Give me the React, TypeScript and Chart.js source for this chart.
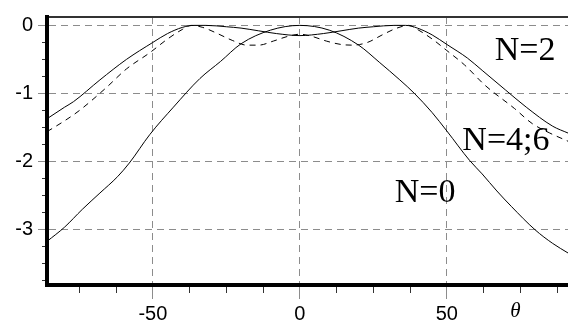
import React, { useEffect, useRef } from 'react';
import { Chart, registerables } from 'chart.js';

Chart.register(...registerables);

// Axis ranges and tick steps
const X_MIN = -86;
const X_MAX = 91.2;
const Y_MIN = -3.81;
const Y_MAX = 0.123;
const X_STEP = 12.5;
const Y_STEP = 0.25;
const X_MAJOR = 50;
const X_TITLE = 'θ';

// N=0 curve (solid)
const thetaN0 = [-86, -80, -74, -68, -62, -58, -51, -43, -34, -27, -20, -10, 0, 10, 20, 27, 34, 39, 45, 50, 57.7, 62, 67, 72, 80, 86, 91.2];
const valuesN0 = [-3.17, -2.96, -2.7, -2.46, -2.22, -2.02, -1.6, -1.2, -0.78, -0.53, -0.27, -0.07, 0, -0.07, -0.29, -0.54, -0.8, -1.0, -1.28, -1.55, -1.98, -2.18, -2.43, -2.66, -3.0, -3.2, -3.34];

// N=2 curve (solid)
const thetaN2 = [-86, -80, -77, -68, -59, -50, -45, -40, -36, -32, -25, -20, -14, -8, 0, 8, 14, 20, 25, 32, 36, 40, 45, 50, 57, 62, 70, 77, 86, 91.2];
const valuesN2 = [-1.37, -1.2, -1.12, -0.8, -0.5, -0.25, -0.12, -0.03, 0, 0, -0.02, -0.04, -0.08, -0.12, -0.15, -0.12, -0.08, -0.04, -0.02, 0, 0, -0.04, -0.14, -0.28, -0.48, -0.66, -0.95, -1.2, -1.48, -1.58];

// N=4;6 curve (dashed)
const thetaN46 = [-86, -80, -75, -66, -59, -51, -45, -40, -37, -33, -28, -23, -18, -14, -9, -4, 0, 4, 9, 14, 18, 23, 28, 33, 37, 40, 45, 50, 56, 63, 73, 79, 85, 91.2];
const valuesN46 = [-1.56, -1.4, -1.25, -0.92, -0.64, -0.4, -0.2, -0.06, 0, -0.03, -0.12, -0.22, -0.29, -0.29, -0.23, -0.16, -0.13, -0.16, -0.23, -0.28, -0.29, -0.25, -0.14, -0.04, 0, -0.06, -0.2, -0.37, -0.58, -0.88, -1.22, -1.44, -1.58, -1.7];

// Curve labels
const labelTexts = ['N=2', 'N=4;6', 'N=0'];
const labelX = [76.6, 70.1, 42.6];
const labelY = [-0.384, -1.705, -2.466];
const THETA_LABEL_X = 73.3;

const GRID = '#8c8c8c';

export default function App() {
  const ref = useRef<HTMLCanvasElement>(null);

  useEffect(() => {
    const canvas = ref.current;
    if (!canvas) return;
    const toPts = (xs: number[], ys: number[]) => xs.map((x, i) => ({ x, y: ys[i] }));
    const isMajorX = (v: number) => Math.abs(v % X_MAJOR) < 1e-6;
    const isMajorY = (v: number) => Math.abs(v - Math.round(v)) < 1e-6;
    const tv = (c: any) => (c && c.tick ? c.tick.value : NaN);

    const annotations = {
      id: 'curveLabels',
      afterDatasetsDraw(chart: any) {
        const { ctx, scales } = chart;
        const xs = scales.x;
        const ys = scales.y;
        ctx.save();
        ctx.fillStyle = '#000';
        ctx.textAlign = 'center';
        ctx.textBaseline = 'middle';
        ctx.font = '34px "Liberation Serif", "Times New Roman", serif';
        labelTexts.forEach((t, i) => {
          ctx.fillText(t, xs.getPixelForValue(labelX[i]), ys.getPixelForValue(labelY[i]));
        });
        ctx.font = 'italic 21px "Liberation Serif", serif';
        ctx.fillText(X_TITLE, xs.getPixelForValue(THETA_LABEL_X), xs.top + 26);
        ctx.restore();
      },
    };

    const chart = new Chart(canvas, {
      type: 'line',
      data: {
        datasets: [
          { label: 'N=0', data: toPts(thetaN0, valuesN0), borderColor: '#000', borderWidth: 1 },
          { label: 'N=2', data: toPts(thetaN2, valuesN2), borderColor: '#000', borderWidth: 1 },
          { label: 'N=4;6', data: toPts(thetaN46, valuesN46), borderColor: '#000', borderWidth: 1, borderDash: [6, 5] },
        ],
      },
      options: {
        animation: false,
        responsive: false,
        devicePixelRatio: 1,
        layout: { padding: { top: 14, left: 0, right: 0, bottom: 0 } },
        plugins: { legend: { display: false }, tooltip: { enabled: false } },
        elements: {
          point: { radius: 0 },
          line: { cubicInterpolationMode: 'monotone', fill: false },
        },
        scales: {
          x: {
            type: 'linear',
            position: 'bottom',
            min: X_MIN,
            max: X_MAX,
            afterFit: (s: any) => { s.height = 38; },
            ticks: {
              stepSize: X_STEP,
              includeBounds: false,
              autoSkip: false,
              maxRotation: 0,
              padding: 3,
              color: '#000',
              font: { family: '"Liberation Sans", Arial, sans-serif', size: 20 },
              callback: (v: any) => (isMajorX(Number(v)) ? String(v) : ''),
            },
            grid: {
              color: (c: any) => (isMajorX(tv(c)) ? GRID : 'rgba(0,0,0,0)'),
              lineWidth: 1,
              tickLength: 14,
              tickWidth: 1,
              tickColor: (c: any) => (isMajorX(tv(c)) ? GRID : '#333'),
              tickBorderDash: (c: any) => (isMajorX(tv(c)) ? [] : [6, 40]),
            },
            border: { display: true, color: '#000', width: 4, dash: [7, 5] },
          },
          x2: {
            type: 'linear',
            position: 'top',
            min: X_MIN,
            max: X_MAX,
            ticks: { display: false },
            grid: { display: false, drawTicks: false },
            border: { display: true, color: '#333', width: 2 },
          },
          y: {
            type: 'linear',
            position: 'left',
            min: Y_MIN,
            max: Y_MAX,
            afterFit: (s: any) => { s.width = 47; },
            ticks: {
              stepSize: Y_STEP,
              includeBounds: false,
              autoSkip: false,
              padding: 5,
              color: '#000',
              font: { family: '"Liberation Sans", Arial, sans-serif', size: 20 },
              callback: (v: any) => (isMajorY(Number(v)) ? String(Math.round(Number(v))) : ''),
            },
            grid: {
              color: (c: any) => (isMajorY(tv(c)) ? GRID : 'rgba(0,0,0,0)'),
              lineWidth: 1,
              tickLength: 9,
              tickWidth: 1,
              tickColor: (c: any) => (isMajorY(tv(c)) ? GRID : '#333'),
              tickBorderDash: (c: any) => (isMajorY(tv(c)) ? [] : [0, 4, 3, 40]),
            },
            border: { display: true, color: '#000', width: 4, dash: [7, 5] },
          },
        },
      },
      plugins: [annotations],
    } as any);

    return () => chart.destroy();
  }, []);

  return (
    <div style={{ position: 'absolute', left: 0, top: 0, width: 568, height: 323, background: '#fff' }}>
      <canvas ref={ref} width={568} height={323} style={{ display: 'block' }} />
    </div>
  );
}
